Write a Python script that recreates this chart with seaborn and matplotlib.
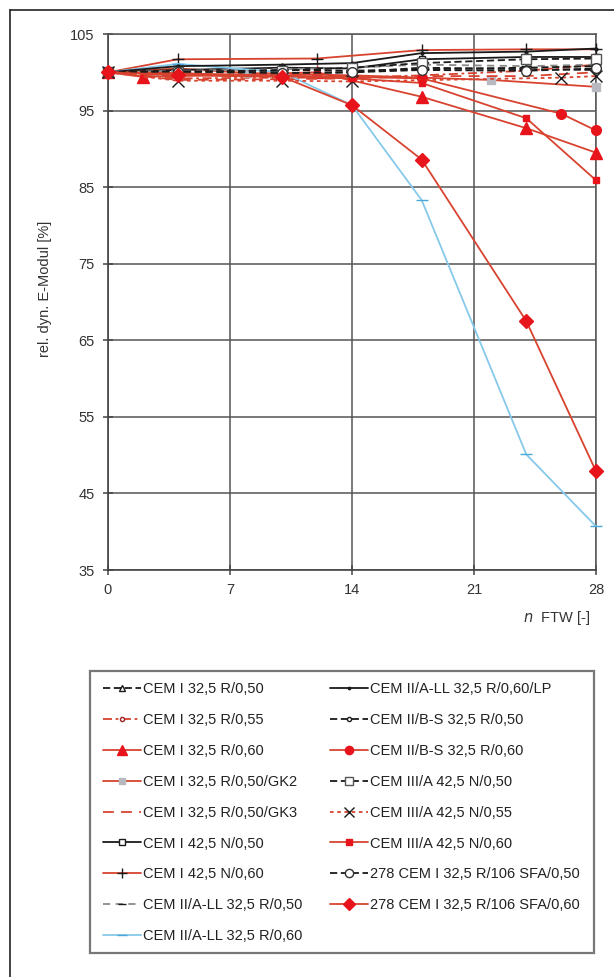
import matplotlib
matplotlib.use("Agg")
import matplotlib.pyplot as plt
import seaborn as sns
import pandas as pd
from matplotlib.lines import Line2D
from matplotlib.patches import Rectangle

sns.set_theme(style="white")
plt.rcParams['font.family'] = ['Liberation Sans', 'DejaVu Sans']

# ---- data -------------------------------------------------------------
labels = [
    "CEM I 32,5 R/0,50",
    "CEM I 32,5 R/0,55",
    "CEM I 32,5 R/0,60",
    "CEM I 32,5 R/0,50/GK2",
    "CEM I 32,5 R/0,50/GK3",
    "CEM I 42,5 N/0,50",
    "CEM I 42,5 N/0,60",
    "CEM II/A-LL 32,5 R/0,50",
    "CEM II/A-LL 32,5 R/0,60",
    "CEM II/A-LL 32,5 R/0,60/LP",
    "CEM II/B-S 32,5 R/0,50",
    "CEM II/B-S 32,5 R/0,60",
    "CEM III/A 42,5 N/0,50",
    "CEM III/A 42,5 N/0,55",
    "CEM III/A 42,5 N/0,60",
    "278 CEM I 32,5 R/106 SFA/0,50",
    "278 CEM I 32,5 R/106 SFA/0,60",
]

x_std = [0, 4, 10, 14, 18, 24, 28]

x_values = [
    x_std,
    x_std,
    [0, 2, 12, 18, 24, 28],
    [0, 4, 8, 14, 22, 28],
    x_std,
    x_std,
    [0, 4, 12, 18, 24, 28],
    x_std,
    x_std,
    x_std,
    x_std,
    [0, 4, 14, 18, 26, 28],
    x_std,
    [0, 4, 10, 14, 26, 28],
    [0, 4, 14, 18, 24, 28],
    x_std,
    x_std,
]

y_values = [
    [100, 99.6, 99.8, 100.0, 100.6, 100.4, 100.3],
    [100, 99.2, 99.3, 99.3, 99.6, 100.2, 101.0],
    [100, 99.4, 100.0, 96.8, 92.7, 89.5],
    [100, 100.5, 99.9, 99.6, 99.0, 98.1],
    [100, 99.0, 99.1, 99.2, 99.5, 99.5, 100.0],
    [100, 100.3, 100.6, 100.5, 101.7, 102.0, 102.0],
    [100, 101.7, 101.8, 102.9, 103.0, 103.0],
    [100, 100.2, 100.4, 100.6, 101.0, 100.8, 101.0],
    [100, 101.1, 100.0, 95.7, 83.3, 50.1, 40.7],
    [100, 100.8, 101.0, 101.2, 102.5, 102.7, 103.1],
    [100, 100.0, 100.3, 100.2, 100.4, 100.6, 100.8],
    [100, 99.8, 99.4, 99.2, 94.6, 92.4],
    [100, 100.1, 100.2, 100.6, 101.2, 101.7, 101.8],
    [100, 98.9, 98.9, 98.8, 99.3, 99.5],
    [100, 99.9, 99.2, 98.6, 94.0, 85.9],
    [100, 100.1, 99.9, 100.0, 100.3, 100.2, 100.5],
    [100, 99.6, 99.4, 95.7, 88.6, 67.5, 47.9],
]

x_ticks = [0, 7, 14, 21, 28]
y_ticks = [35, 45, 55, 65, 75, 85, 95, 105]

# ---- styles -----------------------------------------------------------
RL = "#d8432f"   # red line
RM = "#e8141c"   # red marker
BK = "#1a1a1a"
BL = "#86c9ea"

styles = [
    dict(color=BK, ls=(0, (4, 2)), marker="^", ms=4.5, mfc="white", mec=BK),
    dict(color=RL, ls=(0, (5, 2, 1.5, 2)), marker="o", ms=3.5, mfc="white", mec="#a02020"),
    dict(color=RL, ls="-", marker="^", ms=8, mfc=RM, mec=RM),
    dict(color=RL, ls="-", marker="s", ms=5.5, mfc="#b8b8c0", mec="#b8b8c0"),
    dict(color=RL, ls=(0, (6, 4)), marker=None, ms=0, mfc=RL, mec=RL),
    dict(color=BK, ls="-", marker="s", ms=5, mfc="white", mec=BK),
    dict(color=RL, ls="-", marker="+", ms=9, mfc=BK, mec=BK),
    dict(color="#8a8a8a", ls=(0, (4, 3)), marker="_", ms=7, mfc=BK, mec=BK),
    dict(color=BL, ls="-", marker="_", ms=8, mfc=BL, mec="#4aa8d8"),
    dict(color=BK, ls="-", marker=".", ms=4, mfc=BK, mec=BK),
    dict(color=BK, ls=(0, (4, 2)), marker="o", ms=3.5, mfc="white", mec=BK),
    dict(color=RL, ls="-", marker="o", ms=7, mfc=RM, mec=RM),
    dict(color=BK, ls=(0, (4, 2)), marker="s", ms=6.5, mfc="white", mec="#555555"),
    dict(color=RL, ls=(0, (2, 2)), marker="x", ms=8, mfc=BK, mec=BK),
    dict(color=RL, ls="-", marker="s", ms=4.5, mfc=RM, mec=RM),
    dict(color=BK, ls=(0, (4, 2)), marker="o", ms=7, mfc="white", mec="#333333"),
    dict(color=RL, ls="-", marker="D", ms=7, mfc=RM, mec=RM),
]

# ---- figure -----------------------------------------------------------
W, H = 614, 977
fig = plt.figure(figsize=(W / 100, H / 100), dpi=100)
ax = fig.add_axes([108 / W, 1 - 570 / H, (596 - 108) / W, (570 - 34) / H])

draw_order = [8] + [i for i in range(17) if i != 8]
for i in draw_order:
    df = pd.DataFrame({"n": x_values[i], "E": y_values[i]})
    st = styles[i]
    sns.lineplot(data=df, x="n", y="E", ax=ax, sort=False, color=st["color"],
                 linestyle=st["ls"], linewidth=1.3,
                 marker=st["marker"] if st["marker"] else "",
                 markersize=st["ms"], markerfacecolor=st["mfc"],
                 markeredgecolor=st["mec"], markeredgewidth=1.0,
                 zorder=3 + i * 0.01, clip_on=False)

ax.set_xlim(0, 28)
ax.set_ylim(35, 105)
ax.set_xticks(x_ticks)
ax.set_yticks(y_ticks)
ax.set_xlabel("")
ax.set_ylabel("")
ax.grid(True, color="#555555", linewidth=1.1)
for s in ["top", "right"]:
    ax.spines[s].set_visible(True)
    ax.spines[s].set_color("#555555")
    ax.spines[s].set_linewidth(1.1)
for s in ["left", "bottom"]:
    ax.spines[s].set_color("#444444")
    ax.spines[s].set_linewidth(1.2)
ax.tick_params(axis="both", direction="inout", length=7, width=1.1,
               color="#444444", labelsize=10.5, labelcolor="#333333",
               left=True, bottom=True, pad=6)
ax.set_axisbelow(True)

fig.text(45 / W, 1 - 289 / H, "rel. dyn. E-Modul [%]", rotation=90,
         ha="center", va="center", fontsize=10.5, color="#333333")
fig.text(590 / W, 1 - 618 / H, r"$\it{n}$  FTW [-]", ha="right", va="center",
         fontsize=10.5, color="#333333")

# outer frame (top and left)
fig.add_artist(Line2D([10 / W, 1], [1 - 9.5 / H, 1 - 9.5 / H], color="#222222", lw=1.2))
fig.add_artist(Line2D([10 / W, 10 / W], [0, 1 - 9.5 / H], color="#222222", lw=1.2))

# legend box
fig.add_artist(Rectangle((90 / W, 1 - 953 / H), (594 - 90) / W, (953 - 671) / H,
                         transform=fig.transFigure, fill=False,
                         edgecolor="#777777", lw=1.6))

leg_handles = []
for i in range(17):
    st = styles[i]
    leg_handles.append(Line2D([], [], color=st["color"], linestyle=st["ls"], linewidth=1.3,
                              marker=st["marker"] if st["marker"] else "",
                              markersize=st["ms"] * 0.85, markerfacecolor=st["mfc"],
                              markeredgecolor=st["mec"], markeredgewidth=1.0))
leg = fig.legend(leg_handles, labels, ncol=2, loc="upper left",
                 bbox_to_anchor=(103 / W, 1 - 682 / H), frameon=False,
                 fontsize=10.5, handlelength=2.6, handletextpad=0.15,
                 labelspacing=1.16, columnspacing=1.9, borderpad=0,
                 borderaxespad=0, labelcolor="#222222")

fig.savefig("out.png", dpi=100)
